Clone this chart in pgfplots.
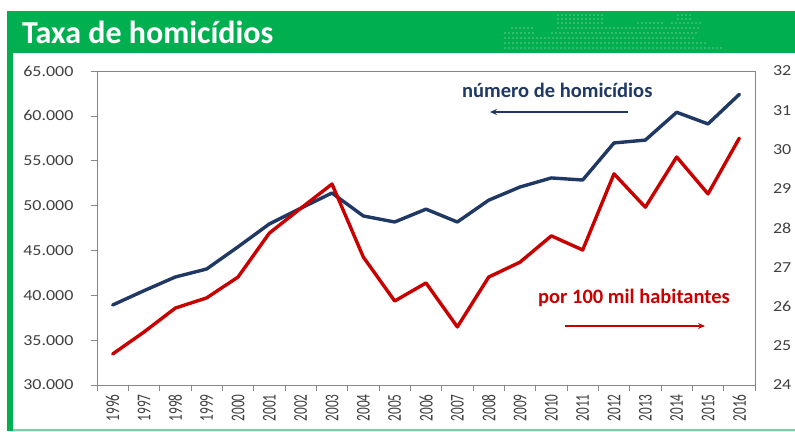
\documentclass[border=0pt]{standalone}
\usepackage{pgfplots}
\pgfplotsset{compat=1.18}
\usepackage{fontspec}
\setmainfont{Carlito}
\usetikzlibrary{arrows.meta}
\definecolor{navy}{RGB}{31,56,100}
\definecolor{linered}{RGB}{200,0,0}
\definecolor{hdrgreen}{RGB}{0,176,80}
\definecolor{dotgreen}{RGB}{110,200,140}
\definecolor{axgray}{RGB}{134,134,134}
\definecolor{lblgray}{RGB}{64,64,64}
\newcommand{\yr}[1]{\scalebox{0.68}[1]{#1}}
\begin{document}
\begin{tikzpicture}
% frame (1px = 1pt, y measured downward)
\fill[white] (0pt,0pt) rectangle (795pt,-431pt);
\useasboundingbox (0pt,0pt) rectangle (795pt,-431pt);
\fill[hdrgreen] (7pt,-11pt) rectangle (795pt,-53pt);
\fill[hdrgreen] (7pt,-53pt) rectangle (13pt,-431pt);
\fill[hdrgreen!55] (13pt,-429pt) rectangle (795pt,-431pt);
\node[anchor=base west,text=white,font=\fontsize{32}{32}\selectfont\bfseries,inner sep=0pt]
  at (22pt,-43pt) {Taxa de homicídios};
% dot pattern in the header
\foreach \yy/\xa/\xb in {15/558/602,15/678/693,19/558/602,19/678/693,
    23/558/602,23/638/663,23/672/702,28/512/533,28/558/700,
    33/505/535,33/552/697,38/505/693,43/505/707,48/505/722}{
  \foreach \k in {0,...,60}{
    \pgfmathsetmacro{\xx}{\xa+4*\k}
    \pgfmathparse{\xx<=\xb ? 1 : 0}
    \ifnum\pgfmathresult=1 \fill[dotgreen] (\xx pt,-\yy pt) circle (0.8pt);\fi
  }
}
% left axis: number of homicides
\begin{axis}[at={(97pt,-385pt)},anchor=south west,scale only axis,
  width=658pt,height=314pt,
  xmin=-0.5,xmax=20.5,ymin=30000,ymax=65000,
  xtick={-0.5,0.5,...,20.5},x tick label as interval,
  xticklabels={\yr{1996},\yr{1997},\yr{1998},\yr{1999},\yr{2000},\yr{2001},\yr{2002},
    \yr{2003},\yr{2004},\yr{2005},\yr{2006},\yr{2007},\yr{2008},\yr{2009},\yr{2010},
    \yr{2011},\yr{2012},\yr{2013},\yr{2014},\yr{2015},\yr{2016}},
  ytick={30000,35000,...,65000},scaled y ticks=false,
  yticklabel={\scalebox{1}[0.85]{\pgfmathprintnumber[fixed,precision=0,1000 sep={.},assume math mode=true]{\tick}}},
  tick align=outside,major tick length=6pt,
  xtick pos=bottom,ytick pos=left,
  axis line style={axgray},tick style={axgray,line width=0.6pt},
  every axis plot/.append style={line width=3.4pt,line join=round,line cap=round},
  xticklabel style={rotate=90,anchor=east,font=\fontsize{19.5}{19.5}\selectfont,text=lblgray},
  yticklabel style={font=\fontsize{18}{18}\selectfont,text=lblgray,xshift=-14pt},
  clip=false]
\addplot[navy,mark=none] coordinates {
  (0,38920) (1,40510) (2,42040) (3,42930) (4,45400) (5,47950) (6,49700)
  (7,51400) (8,48840) (9,48170) (10,49600) (11,48170) (12,50600) (13,52070)
  (14,53080) (15,52850) (16,56980) (17,57300) (18,60400) (19,59100) (20,62400)};
\end{axis}
% right axis: rate per 100k
\begin{axis}[at={(97pt,-385pt)},anchor=south west,scale only axis,
  width=658pt,height=314pt,
  xmin=-0.5,xmax=20.5,ymin=24,ymax=32,
  axis x line=none,axis y line*=right,
  ytick={24,...,32},major tick length=0pt,
  axis line style={axgray},
  yticklabel={\scalebox{1}[0.85]{\pgfmathprintnumber[assume math mode=true]{\tick}}},
  every axis plot/.append style={line width=3.4pt,line join=round,line cap=round},
  yticklabel style={font=\fontsize{18}{18}\selectfont,text=lblgray,xshift=14.5pt},
  clip=false]
\addplot[linered,mark=none] coordinates {
  (0,24.79) (1,25.35) (2,25.96) (3,26.22) (4,26.75) (5,27.87) (6,28.50)
  (7,29.12) (8,27.26) (9,26.14) (10,26.60) (11,25.48) (12,26.75) (13,27.13)
  (14,27.80) (15,27.44) (16,29.38) (17,28.53) (18,29.81) (19,28.87) (20,30.29)};
\end{axis}
% annotations
\node[anchor=base west,text=navy,font=\fontsize{20.5}{20.5}\selectfont\bfseries,inner sep=0pt]
  at (462pt,-97pt) {número de homicídios};
\draw[navy,line width=2pt,-{Stealth[length=7pt,width=6pt]}] (628pt,-112pt) -- (490pt,-112pt);
\node[anchor=base west,text=linered,font=\fontsize{20.5}{20.5}\selectfont\bfseries,inner sep=0pt]
  at (538pt,-303pt) {por 100 mil habitantes};
\draw[linered,line width=2pt,-{Stealth[length=7pt,width=6pt]}] (565pt,-326pt) -- (705pt,-326pt);
\end{tikzpicture}
\end{document}
